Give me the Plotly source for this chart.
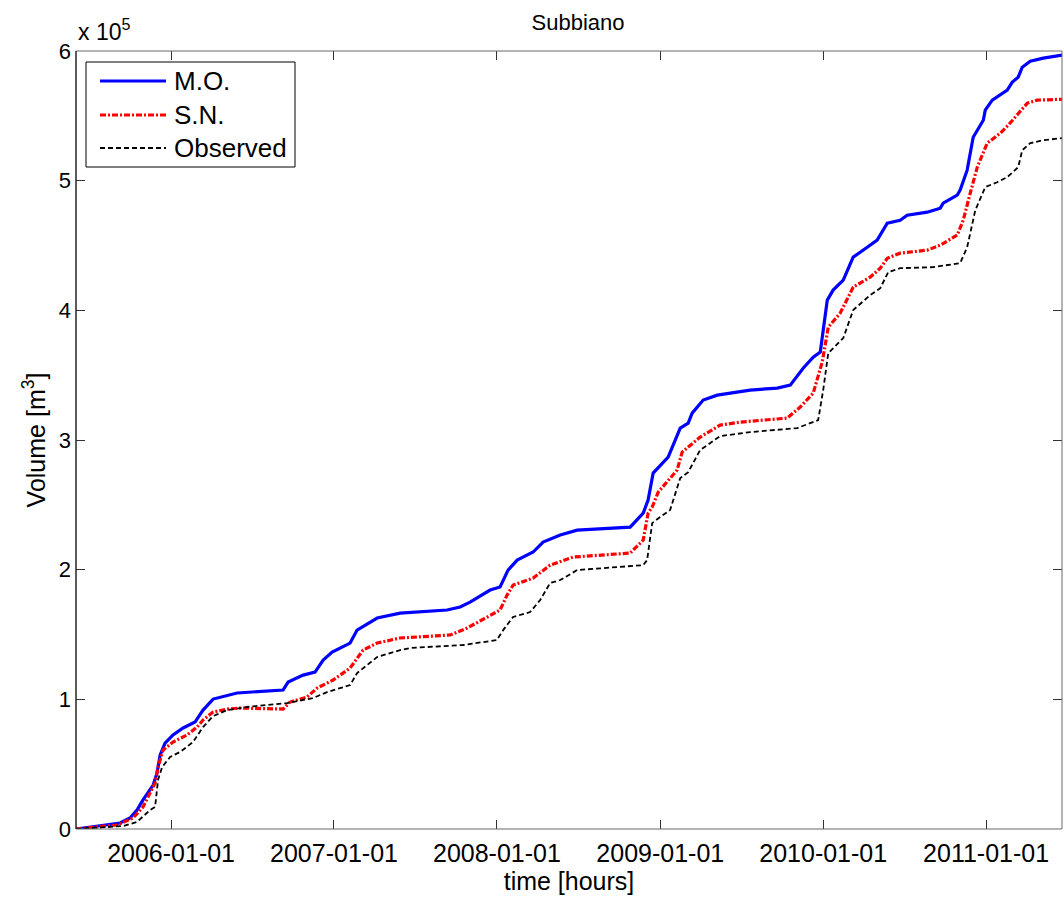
import pandas as pd
import plotly.graph_objects as go

# Cumulative volume at Subbiano, in units of 1e5 m^3, sampled at decimal years
mo_years = [2005.417, 2005.607, 2005.687, 2005.748, 2005.791, 2005.828, 2005.890, 2005.914,
            2005.933, 2005.963, 2006.012, 2006.074, 2006.147, 2006.196, 2006.258, 2006.405,
            2006.485, 2006.687, 2006.718, 2006.773, 2006.810, 2006.883, 2006.933, 2006.988,
            2007.098, 2007.141, 2007.264, 2007.405, 2007.693, 2007.773, 2007.834, 2007.957,
            2008.018, 2008.067, 2008.123, 2008.221, 2008.282, 2008.387, 2008.491, 2008.816,
            2008.896, 2008.926, 2008.957, 2009.049, 2009.123, 2009.172, 2009.196, 2009.264,
            2009.350, 2009.552, 2009.718, 2009.798, 2009.877, 2009.939, 2009.982, 2010.025,
            2010.061, 2010.123, 2010.184, 2010.270, 2010.331, 2010.393, 2010.472, 2010.515,
            2010.638, 2010.718, 2010.736, 2010.822, 2010.840, 2010.883, 2010.920, 2010.982,
            2010.994, 2011.037, 2011.129, 2011.160, 2011.196, 2011.221, 2011.270, 2011.350,
            2011.466]
mo_volume = [0.000, 0.031, 0.046, 0.085, 0.146, 0.224, 0.339, 0.432,
             0.571, 0.663, 0.725, 0.779, 0.825, 0.917, 1.002, 1.049,
             1.056, 1.072, 1.133, 1.164, 1.187, 1.210, 1.303, 1.365,
             1.434, 1.534, 1.627, 1.665, 1.689, 1.712, 1.750, 1.843,
             1.866, 1.997, 2.074, 2.136, 2.213, 2.267, 2.305, 2.328,
             2.436, 2.537, 2.745, 2.868, 3.092, 3.130, 3.207, 3.308,
             3.346, 3.385, 3.400, 3.423, 3.554, 3.639, 3.678, 4.079,
             4.156, 4.233, 4.410, 4.487, 4.541, 4.672, 4.695, 4.734,
             4.757, 4.788, 4.826, 4.888, 4.927, 5.081, 5.335, 5.466,
             5.544, 5.621, 5.698, 5.760, 5.798, 5.875, 5.921, 5.945,
             5.968]

sn_years = [2005.417, 2005.669, 2005.767, 2005.828, 2005.902, 2005.920, 2005.951, 2006.012,
            2006.098, 2006.160, 2006.196, 2006.258, 2006.344, 2006.423, 2006.687, 2006.730,
            2006.834, 2006.896, 2006.994, 2007.098, 2007.178, 2007.264, 2007.405, 2007.712,
            2007.816, 2007.939, 2008.018, 2008.061, 2008.098, 2008.221, 2008.325, 2008.466,
            2008.816, 2008.896, 2008.926, 2008.951, 2008.988, 2009.104, 2009.135, 2009.245,
            2009.368, 2009.491, 2009.779, 2009.859, 2009.939, 2009.994, 2010.031, 2010.104,
            2010.184, 2010.288, 2010.350, 2010.393, 2010.472, 2010.638, 2010.718, 2010.822,
            2010.859, 2010.902, 2010.945, 2011.006, 2011.086, 2011.135, 2011.196, 2011.252,
            2011.313, 2011.466]
sn_volume = [0.000, 0.031, 0.085, 0.170, 0.355, 0.478, 0.609, 0.671,
             0.725, 0.786, 0.840, 0.902, 0.925, 0.933, 0.925, 0.979,
             1.018, 1.087, 1.149, 1.241, 1.380, 1.434, 1.473, 1.496,
             1.550, 1.635, 1.689, 1.804, 1.881, 1.935, 2.035, 2.097,
             2.128, 2.228, 2.436, 2.483, 2.598, 2.768, 2.907, 3.022,
             3.115, 3.138, 3.169, 3.254, 3.362, 3.601, 3.870, 3.978,
             4.179, 4.256, 4.325, 4.402, 4.441, 4.464, 4.503, 4.580,
             4.695, 4.904, 5.104, 5.289, 5.366, 5.428, 5.520, 5.598,
             5.621, 5.628]

obs_years = [2005.417, 2005.706, 2005.791, 2005.871, 2005.902, 2005.920, 2005.945, 2005.994,
             2006.055, 2006.135, 2006.196, 2006.258, 2006.344, 2006.466, 2006.712, 2006.871,
             2006.957, 2007.098, 2007.141, 2007.264, 2007.405, 2007.466, 2007.791, 2007.998,
             2008.037, 2008.098, 2008.202, 2008.264, 2008.325, 2008.387, 2008.491, 2008.896,
             2008.920, 2008.951, 2009.000, 2009.061, 2009.123, 2009.172, 2009.245, 2009.368,
             2009.552, 2009.840, 2009.969, 2010.000, 2010.031, 2010.123, 2010.184, 2010.288,
             2010.350, 2010.399, 2010.472, 2010.675, 2010.840, 2010.883, 2010.933, 2010.994,
             2011.067, 2011.129, 2011.196, 2011.221, 2011.270, 2011.350, 2011.466]
obs_volume = [0.000, 0.023, 0.054, 0.146, 0.170, 0.378, 0.478, 0.555,
              0.594, 0.671, 0.786, 0.871, 0.917, 0.941, 0.971, 1.010,
              1.056, 1.110, 1.203, 1.326, 1.380, 1.396, 1.419, 1.457,
              1.534, 1.635, 1.673, 1.766, 1.897, 1.920, 1.997, 2.035,
              2.074, 2.359, 2.406, 2.460, 2.706, 2.752, 2.922, 3.030,
              3.061, 3.092, 3.153, 3.385, 3.670, 3.786, 4.002, 4.117,
              4.171, 4.295, 4.325, 4.333, 4.364, 4.487, 4.773, 4.950,
              4.988, 5.027, 5.104, 5.235, 5.289, 5.312, 5.328]

series_names = ["M.O.", "S.N.", "Observed"]
x_tick_dates = ["2006-01-01", "2007-01-01", "2008-01-01", "2009-01-01", "2010-01-01", "2011-01-01"]
y_tick_vals = [0, 1, 2, 3, 4, 5, 6]
y_tick_text = ["0", "1", "2", "3", "4", "5", "6"]


def to_dates(years):
    base = pd.Timestamp("2006-01-01")
    return [base + pd.Timedelta(days=(y - 2006.0) * 365.25) for y in years]


FONT = "Liberation Sans, Arial, Helvetica, sans-serif"
W, H = 1064, 899
ML, MR, MT, MB = 76, 2, 51, 70
PW, PH = W - ML - MR, H - MT - MB


def px(xp):
    return (xp - ML) / PW


def py(yp):
    return (H - MB - yp) / PH


styles = [
    dict(color="#0000ff", width=3.2, dash="solid"),
    dict(color="#ff0000", width=3.2, dash="6px,2px,2px,2px"),
    dict(color="#000000", width=1.8, dash="5px,3px"),
]

fig = go.Figure()
for name, yrs, vol, st in zip(series_names,
                              [mo_years, sn_years, obs_years],
                              [mo_volume, sn_volume, obs_volume],
                              styles):
    fig.add_trace(go.Scatter(x=to_dates(yrs), y=vol, mode="lines", name=name,
                             line=st, showlegend=False))

# Legend box drawn in the upper-left corner of the axes
shapes = [
    dict(type="rect", xref="paper", yref="paper", x0=px(86), x1=px(295),
         y0=py(167), y1=py(62), line=dict(color="#000000", width=1),
         fillcolor="white", layer="above"),
    # axes frame
    dict(type="rect", xref="paper", yref="paper", x0=0, x1=1, y0=0, y1=1,
         line=dict(color="#6a6a6a", width=1), layer="above"),
    dict(type="line", xref="paper", yref="paper", x0=0, x1=0, y0=0, y1=1,
         line=dict(color="#000000", width=1), layer="above"),
]
annotations = []
rows_y = [81, 115, 148]
for name, st, ry in zip(series_names, styles, rows_y):
    shapes.append(dict(type="line", xref="paper", yref="paper", x0=px(100), x1=px(166),
                       y0=py(ry), y1=py(ry), layer="above",
                       line=dict(color=st["color"], width=st["width"], dash=st["dash"])))
    annotations.append(dict(text=name, xref="paper", yref="paper", x=px(172), y=py(ry),
                            xanchor="left", yanchor="middle", showarrow=False,
                            font=dict(family=FONT, size=26, color="black")))

annotations.append(dict(text="x 10<sup>5</sup>", xref="paper", yref="paper",
                        x=0, y=1, xanchor="left", yanchor="bottom", yshift=4,
                        showarrow=False, font=dict(family=FONT, size=23, color="black")))

fig.update_layout(
    width=W, height=H,
    margin=dict(l=ML, r=MR, t=MT, b=MB),
    paper_bgcolor="white", plot_bgcolor="white",
    title=dict(text="Subbiano", xref="container", x=578 / W, xanchor="center",
               yref="container", y=1 - 22 / H, yanchor="middle",
               font=dict(family=FONT, size=22, color="black")),
    xaxis=dict(
        range=["2005-06-02", "2011-06-20"],
        tickvals=x_tick_dates, tickformat="%Y-%m-%d",
        ticks="inside", ticklen=9, tickcolor="#333333", tickwidth=1,
        mirror="ticks", showline=False, showgrid=False, zeroline=False,
        ticklabelstandoff=7,
        tickfont=dict(family=FONT, size=25, color="black"),
        title=dict(text="time [hours]", font=dict(family=FONT, size=25, color="black"), standoff=2),
    ),
    yaxis=dict(
        range=[0, 6],
        tickvals=y_tick_vals, ticktext=y_tick_text,
        ticks="inside", ticklen=9, tickcolor="#333333", tickwidth=1,
        mirror="ticks", showline=False, showgrid=False, zeroline=False,
        ticklabelstandoff=4,
        tickfont=dict(family=FONT, size=22, color="black"),
        title=dict(text="Volume [m<sup>3</sup>]", font=dict(family=FONT, size=25, color="black"), standoff=6),
    ),
    shapes=shapes,
    annotations=annotations,
)

fig.write_html("out.html")
